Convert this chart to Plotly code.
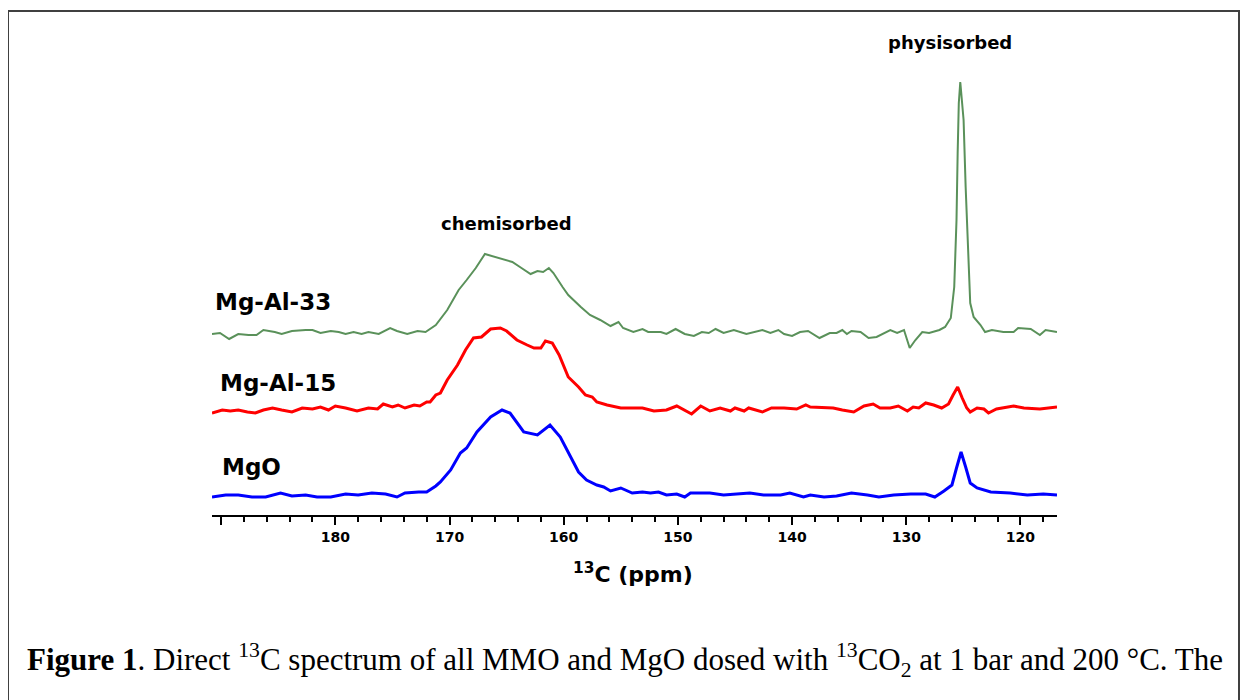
import plotly.graph_objects as go

# ---------------- data ----------------
# MgO (blue)
mgo_ppm = [190.8, 189.6, 188.5, 187.3, 186.1, 184.8, 183.8, 182.6, 181.6, 180.4,
           179.1, 178.0, 176.8, 175.6, 174.6, 173.9, 172.7, 172.0, 171.2, 170.8,
           169.9, 169.05, 168.5, 167.6, 166.4, 165.4, 164.7, 163.5, 162.3, 161.2,
           160.3, 159.4, 158.7, 158.0, 157.1, 156.5, 155.9, 155.0, 154.0, 153.1,
           152.4, 151.7, 151.0, 150.1, 149.4, 148.9, 147.2, 146.0, 144.5, 143.7,
           142.5, 141.0, 140.2, 139.0, 138.4, 137.2, 136.1, 134.8, 133.4, 132.4,
           131.1, 129.6, 128.3, 127.5, 126.7, 126.0, 125.6, 125.2, 124.8, 124.4,
           123.8, 122.6, 120.9, 119.4, 118.0, 116.8]
mgo_int = [-2, 0, 0, -2, -2, 2, -1, 0, -2, -2,
           1, 0, 2, 1, -2, 2, 3, 3, 9, 13,
           25, 42, 47, 63, 78, 85, 82, 63, 60, 70,
           58, 38, 23, 15, 10, 8, 4, 7, 2, 3,
           2, 3, 0, 1, -2, 2, 2, 0, 1, 2,
           0, 0, 2, -2, 0, -2, -1, 2, 0, -2,
           0, 1, 1, -2, 4, 10, 27, 43, 28, 12,
           7, 3, 2, 0, 1, 0]

# Mg-Al-15 (red)
mgal15_ppm = [190.8, 189.9, 189.2, 188.5, 187.7, 187.0, 186.3, 185.5, 184.7, 183.8,
              182.9, 182.0, 181.3, 180.6, 180.0, 179.1, 178.1, 177.1, 176.3, 175.8,
              175.0, 174.5, 173.9, 173.1, 172.6, 172.0, 171.7, 171.2, 170.8, 170.2,
              169.3, 168.6, 167.9, 167.2, 166.4, 165.55, 165.0, 164.1, 163.2, 162.6,
              162.0, 161.6, 161.0, 160.4, 159.6, 158.7, 158.1, 157.5, 157.1, 156.2,
              155.0, 153.6, 153.1, 152.1, 151.0, 150.1, 149.4, 148.8, 148.0, 147.2,
              146.3, 145.4, 145.0, 144.2, 143.8, 142.6, 141.8, 140.7, 139.6, 138.8,
              138.4, 137.2, 136.4, 135.6, 134.6, 133.7, 132.9, 132.3, 131.4, 130.7,
              129.9, 129.4, 128.9, 128.3, 127.6, 126.9, 126.3, 125.9, 125.5, 125.1,
              124.7, 124.4, 123.8, 123.2, 122.8, 122.1, 120.6, 119.7, 118.3, 116.8]
mgal15_int = [-4, -1, -2, -1, -3, -4, -1, 1, -1, -3,
              1, 0, 2, -1, 3, 1, -2, 1, 0, 5,
              2, 4, 1, 4, 3, 7, 7, 14, 16, 29,
              44, 59, 71, 72, 80, 81, 78, 69, 64, 61,
              61, 68, 66, 54, 32, 22, 14, 12, 7, 4,
              1, 1, 1, -2, -1, 3, -1, -5, 3, -2,
              1, -2, 1, -2, 1, -3, 1, 1, 0, 4,
              2, 1, 1, -1, -3, 3, 5, 1, 1, 3,
              -2, 2, 1, 6, 4, 1, 5, 14, 22, 11,
              1, -3, 1, 0, -4, 0, 3, 1, 0, 2]

# Mg-Al-33 (green)
mgal33_ppm = [190.8, 190.1, 189.3, 188.5, 187.6, 186.9, 186.3, 185.3, 184.7, 183.8,
              182.6, 182.0, 181.3, 180.4, 179.7, 179.1, 178.4, 177.7, 177.1, 176.2,
              175.2, 174.6, 173.7, 172.8, 172.1, 171.2, 170.2, 169.2, 168.5, 167.7,
              166.9, 166.3, 165.4, 164.5, 163.7, 162.9, 162.3, 161.8, 161.3, 160.9,
              160.1, 159.6, 158.5, 157.7, 156.8, 155.9, 155.2, 154.8, 153.9, 153.1,
              152.6, 151.5, 151.0, 150.2, 149.4, 148.6, 147.9, 147.3, 146.7, 146.0,
              145.1, 144.0, 142.6, 141.9, 141.2, 140.7, 140.0, 139.3, 138.6, 137.6,
              136.7, 136.1, 135.6, 135.2, 134.8, 134.0, 133.3, 132.6, 131.4, 130.8,
              130.2, 129.9, 129.7, 129.2, 128.6, 128.0, 127.1, 126.6, 126.1, 125.8,
              125.6, 125.5, 125.4, 125.27, 124.98, 124.8, 124.6, 124.4, 124.1, 123.5,
              123.1, 122.5, 121.5, 120.6, 120.2, 119.1, 118.3, 117.8, 116.8]
mgal33_int = [-3, -2, -8, -3, -4, -4, 1, -1, -3, 0,
              1, 1, -2, 0, -1, -3, -1, -3, -1, -3,
              3, 0, -3, 0, -1, 6, 21, 41, 51, 63,
              77, 75, 72, 69, 63, 57, 60, 59, 63, 58,
              44, 36, 24, 16, 11, 5, 9, 3, -1, 2,
              -1, -1, -3, 2, -3, -5, -1, -2, 2, -2,
              1, -3, 1, -2, 1, -3, -5, -1, 0, -7,
              -2, -2, 1, -3, 0, -1, -7, -6, 1, -2,
              1, -9, -17, -9, -1, -2, 1, 4, 13, 44,
              111, 178, 228, 249, 211, 144, 78, 28, 14, 6,
              -1, 1, -1, -1, 3, 2, -4, 1, -1]

series_names = ["MgO", "Mg-Al-15", "Mg-Al-33"]
series_offsets = [20, 106, 184]
series_colors = ["#0000ff", "#ff0000", "#5a915a"]
series_widths = [3, 3, 2]

tick_vals = [190, 180, 170, 160, 150, 140, 130, 120]
tick_text = ["", "180", "170", "160", "150", "140", "130", "120"]

# ---------------- figure ----------------
# the page has an 8 px body margin, so the figure is drawn 8 px in from the window edge
OFF = 8
W, H = 1248 - OFF, 700 - OFF
PL, PT = 212, 20          # plot-area left / top in window pixels
PW, PH = 845, 495
L, T = PL - OFF, PT - OFF
R, B = W - L - PW, H - T - PH


def px(x):
    return (x - PL) / PW


def py(y):
    return (PT + PH - y) / PH


fig = go.Figure()
all_ppm = [mgo_ppm, mgal15_ppm, mgal33_ppm]
all_int = [mgo_int, mgal15_int, mgal33_int]
for name, ppm, inten, off, col, lw in zip(series_names, all_ppm, all_int,
                                          series_offsets, series_colors, series_widths):
    fig.add_trace(go.Scatter(x=ppm, y=[v + off for v in inten], mode="lines",
                             name=name, line=dict(color=col, width=lw),
                             showlegend=False))

sans = "DejaVu Sans"
label_font = dict(family=sans, size=23, color="black", weight="bold")
# sample labels
fig.add_annotation(x=px(213), y=py(302), xref="paper", yref="paper", text="Mg-Al-33",
                   showarrow=False, xanchor="left", yanchor="middle", font=label_font)
fig.add_annotation(x=px(218), y=py(383), xref="paper", yref="paper", text="Mg-Al-15",
                   showarrow=False, xanchor="left", yanchor="middle", font=label_font)
fig.add_annotation(x=px(220), y=py(467), xref="paper", yref="paper", text="MgO",
                   showarrow=False, xanchor="left", yanchor="middle", font=label_font)
# region labels
fig.add_annotation(x=px(506), y=py(223), xref="paper", yref="paper", text="chemisorbed",
                   showarrow=False, xanchor="center", yanchor="middle",
                   font=dict(family=sans, size=18, color="black", weight="bold"))
fig.add_annotation(x=px(950), y=py(43), xref="paper", yref="paper", text="physisorbed",
                   showarrow=False, xanchor="center", yanchor="middle",
                   font=dict(family=sans, size=18, color="black", weight="bold"))
# axis title
fig.add_annotation(x=px(633), y=py(573), xref="paper", yref="paper",
                   text="<sup>13</sup>C (ppm)", showarrow=False,
                   xanchor="center", yanchor="middle",
                   font=dict(family=sans, size=22, color="black", weight="bold"))
# caption
fig.add_annotation(x=px(25), y=py(660), xref="paper", yref="paper",
                   text="<b>Figure 1</b>. Direct <sup>13</sup>C spectrum of all MMO and MgO "
                        "dosed with <sup>13</sup>CO<sub>2</sub> at 1 bar and 200 °C. The",
                   showarrow=False, xanchor="left", yanchor="middle",
                   font=dict(family="Liberation Serif", size=31, color="black"))

# page border
fig.add_shape(type="rect", xref="paper", yref="paper",
              x0=px(8), x1=px(1239), y0=py(712), y1=py(11),
              line=dict(color="#404040", width=2), fillcolor="rgba(0,0,0,0)")

fig.update_layout(
    width=W, height=H,
    margin=dict(l=L, r=R, t=T, b=B, pad=0),
    paper_bgcolor="white", plot_bgcolor="white",
    xaxis=dict(range=[190.8, 116.8], tickmode="array", tickvals=tick_vals,
               ticktext=tick_text, ticks="outside", ticklen=8, tickwidth=2,
               tickcolor="black", showline=True, linewidth=2, linecolor="black",
               showgrid=False, zeroline=False, ticklabelstandoff=0,
               tickfont=dict(family=sans, size=14, color="black", weight="bold"),
               minor=dict(tickmode="linear", tick0=120, dtick=2, ticks="outside",
                          ticklen=5, tickwidth=1.5, tickcolor="black", showgrid=False)),
    yaxis=dict(range=[0, 495], visible=False, showgrid=False, zeroline=False),
)

fig.write_html("out.html")
